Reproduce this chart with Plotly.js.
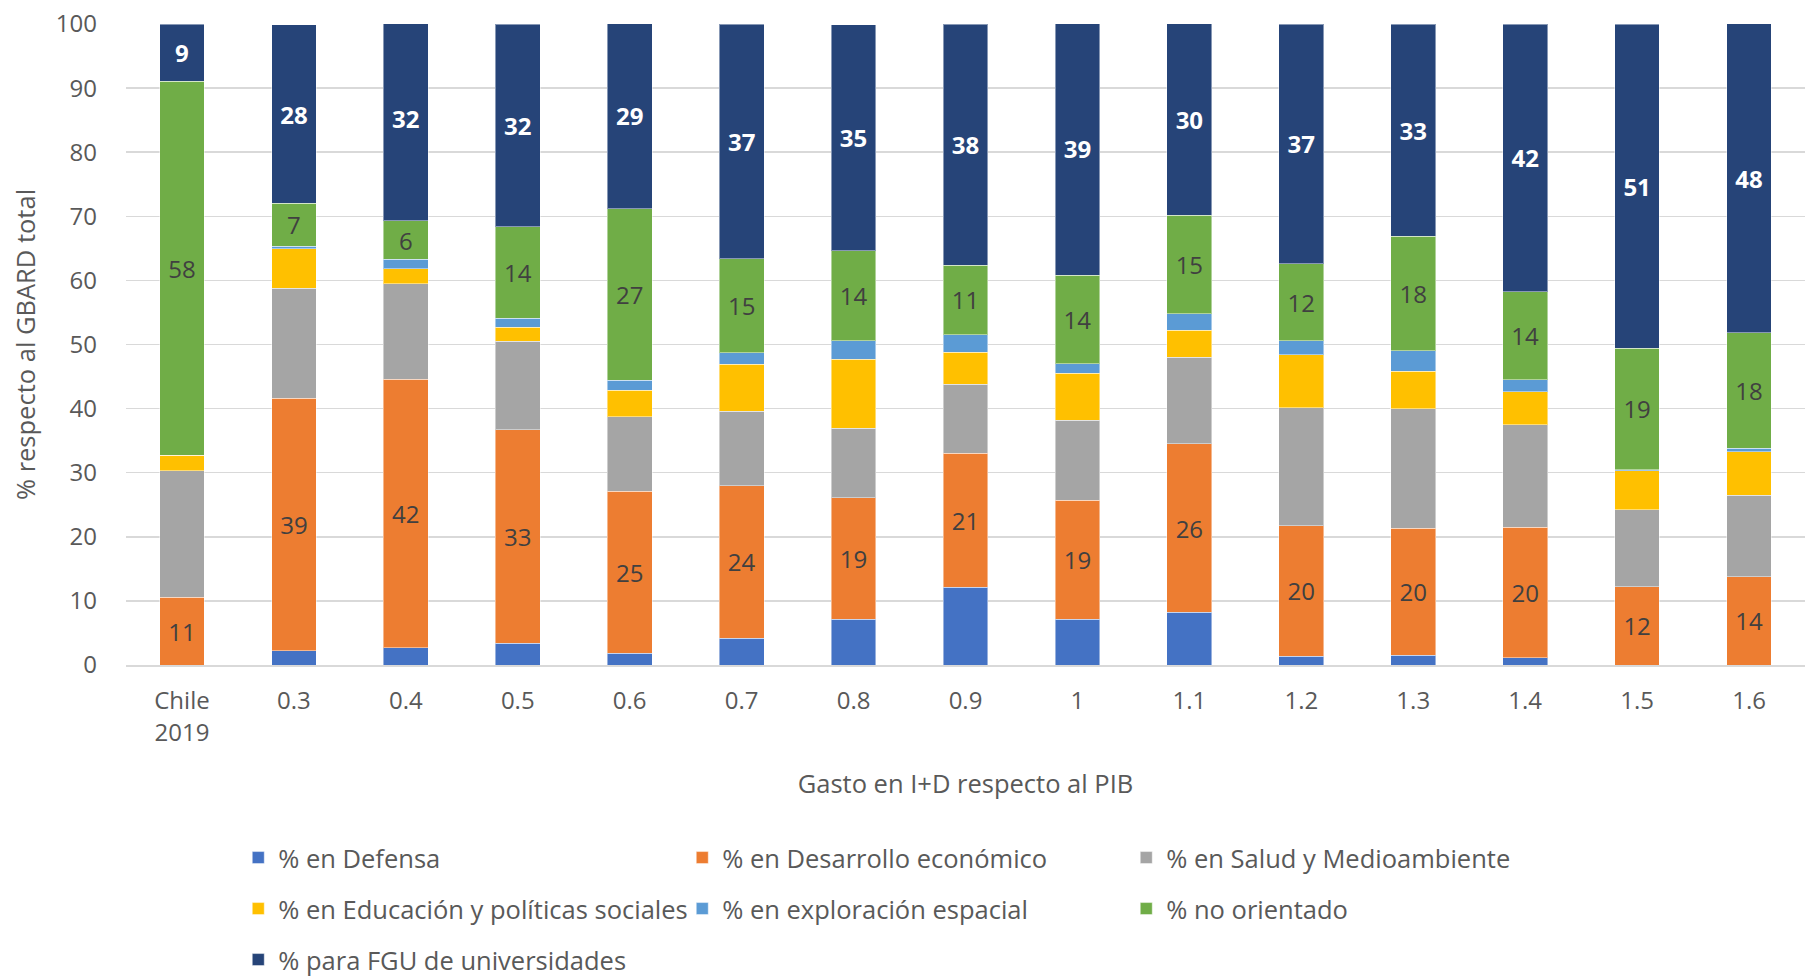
<!DOCTYPE html>
<html><head><meta charset="utf-8">
<script src="https://cdn.plot.ly/plotly-3.0.1.min.js"></script>
<style>html,body{margin:0;padding:0;background:#fff}#chart{width:1805px;height:980px}</style>
</head><body><div id="chart"></div>
<script>
const categories = ['Chile<br>2019','0.3','0.4','0.5','0.6','0.7','0.8','0.9','1','1.1','1.2','1.3','1.4','1.5','1.6'];
const defensa     = [0,   2.2, 2.7, 3.4, 1.8, 4.2, 7.1, 12.1, 7.1, 8.2, 1.4, 1.5, 1.1, 0,    0];
const desarrollo  = [10.6,39.4,41.9,33.3,25.3,23.8,19.0,20.9,18.6,26.3,20.3,19.8,20.4,12.2,13.8];
const salud       = [19.7,17.2,14.9,13.8,11.6,11.6,10.8,10.8,12.5,13.5,18.4,18.7,16.0,12.0,12.7];
const educacion   = [2.4, 6.1, 2.3, 2.2, 4.2, 7.3, 10.8,5.0, 7.3, 4.2, 8.3, 5.8, 5.1, 6.1, 6.8];
const espacial    = [0,   0.4, 1.5, 1.4, 1.5, 1.8, 2.9, 2.7, 1.5, 2.6, 2.2, 3.2, 1.9, 0.2, 0.5];
const noOrientado = [58.4,6.7, 6.0, 14.3,26.8,14.7,14.0,10.9,13.8,15.4,12.0,17.9,13.7,18.9,18.0];
const fgu         = [8.9, 27.9,32.0,31.6,28.9,36.6,35.3,37.6,39.4,29.9,37.4,33.1,41.8,50.6,48.3];

const seriesNames = ['% en Defensa','% en Desarrollo económico','% en Salud y Medioambiente',
  '% en Educación y políticas sociales','% en exploración espacial','% no orientado','% para FGU de universidades'];
const seriesValues = [defensa, desarrollo, salud, educacion, espacial, noOrientado, fgu];
const seriesColors = ['#4472C4','#ED7D31','#A5A5A5','#FFC000','#5B9BD5','#70AD47','#264478'];
const labelled = [false, true, false, false, false, true, true];
const legendOf = ['legend','legend','legend','legend2','legend2','legend2','legend3'];

const FONT = 'Open Sans, sans-serif';
const traces = seriesNames.map((n, i) => {
  const t = {
    type: 'bar', name: n, x: categories, y: seriesValues[i],
    marker: {color: seriesColors[i], line: {color: 'rgba(255,255,255,0.45)', width: 1}},
    legend: legendOf[i], hoverinfo: 'name+y'
  };
  if (labelled[i]) {
    t.texttemplate = '%{y:.0f}';
    t.textposition = 'inside';
    t.insidetextanchor = 'middle';
    t.textangle = 0;
    t.constraintext = 'none';
    t.textfont = i === 6 ? {family: FONT, size: 24, color: '#ffffff', weight: 'bold'}
                         : {family: FONT, size: 24, color: '#404040'};
  } else {
    t.textposition = 'none';
  }
  return t;
});

const legendBase = {
  orientation: 'h', xref: 'container', yref: 'container', x: 0.132, xanchor: 'left', yanchor: 'middle',
  entrywidth: 399, entrywidthmode: 'pixels', traceorder: 'normal',
  font: {family: FONT, size: 25.5, color: '#595959'}, bgcolor: 'rgba(0,0,0,0)', itemwidth: 30
};

const layout = {
  width: 1805, height: 980,
  margin: {l: 126, r: 0, t: 24, b: 315},
  paper_bgcolor: '#ffffff', plot_bgcolor: '#ffffff',
  barmode: 'stack', bargap: 0.6,
  font: {family: FONT, color: '#595959'},
  showlegend: true,
  legend: Object.assign({}, legendBase, {y: 1 - 858/980}),
  legend2: Object.assign({}, legendBase, {y: 1 - 909/980}),
  legend3: Object.assign({}, legendBase, {y: 1 - 960/980}),
  xaxis: {
    type: 'category', tickfont: {family: FONT, size: 24, color: '#595959'},
    showgrid: false, showline: true, linecolor: '#D9D9D9', linewidth: 1.5, ticks: '',
    ticklabelstandoff: 14, automargin: false,
    title: {text: 'Gasto en I+D respecto al PIB', font: {family: FONT, size: 25.5, color: '#595959'}, standoff: 28}
  },
  yaxis: {
    range: [0, 100], dtick: 10, tick0: 0, showgrid: true, gridcolor: '#D9D9D9', gridwidth: 1.5,
    zeroline: false, showline: false, ticks: '', tickfont: {family: FONT, size: 24, color: '#595959'},
    ticklabelstandoff: 28, automargin: false,
    title: {text: '% respecto al GBARD total', font: {family: FONT, size: 25.5, color: '#595959'}, standoff: 12}
  }
};

Plotly.newPlot('chart', traces, layout, {displayModeBar: false, staticPlot: true});
</script>
</body></html>
